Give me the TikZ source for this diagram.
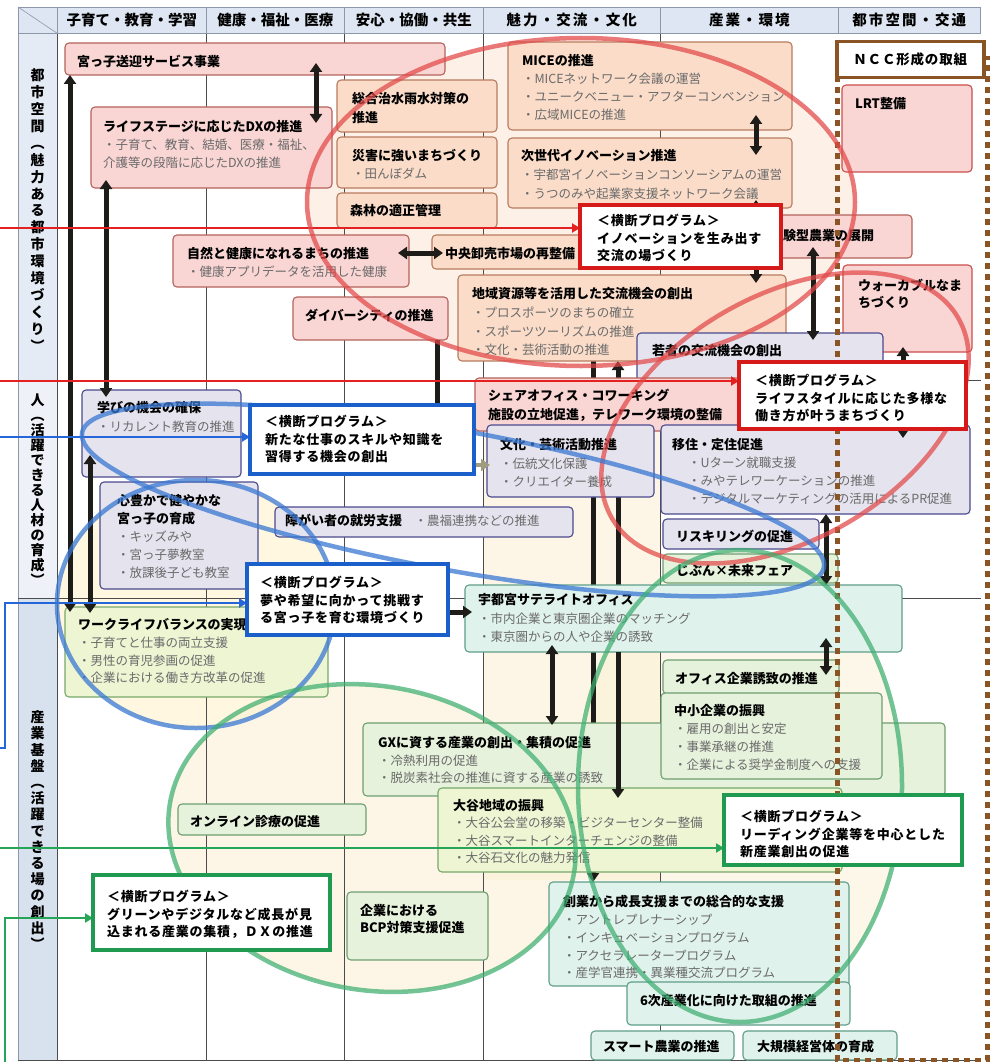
\documentclass[tikz,border=0pt]{standalone}
\usepackage{fontspec}
\setmainfont{Noto Sans CJK JP}
\newfontfamily\jpw{Noto Sans CJK JP}[LetterSpace=6]
\newfontfamily\jph{Noto Sans CJK JP}[LetterSpace=14]
\usetikzlibrary{arrows.meta}
\pgfdeclarelayer{back}\pgfdeclarelayer{mid}\pgfdeclarelayer{over}\pgfdeclarelayer{top}
\pgfsetlayers{back,mid,main,over,top}
\definecolor{pkF}{HTML}{F9D5D4}\definecolor{pkD}{HTML}{B5625C}\definecolor{pkR}{HTML}{CC4E4A}
\definecolor{pcF}{HTML}{FADCC9}\definecolor{pcD}{HTML}{B87C60}
\definecolor{lvF}{HTML}{E5E3EE}\definecolor{lvD}{HTML}{4A4A8E}
\definecolor{ygF}{HTML}{EDF5D3}\definecolor{ygD}{HTML}{78A86C}
\definecolor{lgF}{HTML}{E6F2DC}\definecolor{lgD}{HTML}{6E9F70}
\definecolor{cyF}{HTML}{E0F2EC}\definecolor{cyD}{HTML}{5F9E8A}
\definecolor{crRed}{HTML}{D61A1A}\definecolor{crBlue}{HTML}{1B5FCB}\definecolor{crGreen}{HTML}{1F9A50}
\definecolor{lnRed}{HTML}{E52020}\definecolor{lnBlue}{HTML}{2566D8}\definecolor{lnGreen}{HTML}{25A557}
\definecolor{elRed}{HTML}{E24848}\definecolor{elBlue}{HTML}{3A78D2}\definecolor{elGreen}{HTML}{3DAE70}
\definecolor{elRF}{HTML}{FDE6D8}\definecolor{creamF}{HTML}{FCF1D6}\definecolor{yelF}{HTML}{FFF5D2}
\definecolor{arrC}{HTML}{1E1C18}\definecolor{buC}{HTML}{6A6A6A}
\definecolor{hdF}{HTML}{DDE6F2}\definecolor{hdD}{HTML}{8C98AA}
\definecolor{lb1}{HTML}{E4EBF5}\definecolor{lb2}{HTML}{EEF2F8}\definecolor{lb3}{HTML}{D8E1EE}
\definecolor{nccC}{HTML}{8B5424}\definecolor{grayA}{HTML}{A09C80}
\newcommand\bt[1]{{\bfseries\fontsize{13}{18}\selectfont #1}}
\newcommand\bu[1]{\textcolor{buC}{#1}}
\newcommand\BX[6]{\node[#2, anchor=north west, minimum width={(#5)-(#3)}, minimum height={(#6)-(#4)}] (#1) at (#3,#4) {};}
\tikzset{
  tipA/.tip={Triangle[width=12pt,length=9pt]},
  tipB/.tip={Triangle[width=9pt,length=8pt]},
  bx/.style={rounded corners=4pt, line width=1.1pt, inner sep=0pt, outer sep=0pt},
  pk/.style={bx, fill=pkF, draw=pkD},
  pkr/.style={bx, fill=pkF, draw=pkR},
  pc/.style={bx, fill=pcF, draw=pcD},
  lv/.style={bx, fill=lvF, draw=lvD},
  yg/.style={bx, fill=ygF, draw=ygD},
  lg/.style={bx, fill=lgF, draw=lgD},
  cb/.style={bx, fill=cyF, draw=cyD},
  crs/.style={fill=white, line width=4pt, inner sep=0pt, outer sep=0pt},
  crR/.style={crs, draw=crRed},
  crB/.style={crs, draw=crBlue},
  crG/.style={crs, draw=crGreen},
  txt/.style={inner sep=0pt, outer sep=0pt, anchor=north west, align=left, font=\fontsize{12.5}{18}\selectfont, execute at begin node={\rule{0pt}{10pt}}},
  ctx/.style={txt, font=\jpw\bfseries\fontsize{13}{17.5}\selectfont},
  hdr/.style={anchor=north west, fill=hdF, draw=hdD, line width=0.6pt, inner sep=0pt, minimum height=26, font=\bfseries\fontsize{14.5}{16}\selectfont},
  lab/.style={anchor=north west, draw=hdD, line width=0.6pt, inner sep=0pt, minimum width=39},
  vlab/.style={align=center, inner sep=0pt},
  gridln/.style={draw=black!70, line width=0.7pt},
  dbl/.style={line width=5pt, draw=arrC, tipA-tipA},
  sgl/.style={line width=5pt, draw=arrC, -tipA},
  pln/.style={line width=5pt, draw=arrC},
  grayarr/.style={line width=4pt, draw=grayA, -tipA},
  redln/.style={line width=2pt, draw=lnRed, -tipB},
  blueln/.style={line width=2.4pt, draw=lnBlue, -tipB},
  greenln/.style={line width=2.4pt, draw=lnGreen, -tipB},
  nccdot/.style={draw=nccC, line width=5pt, dash pattern=on 6pt off 5pt},
  elR/.style={draw=elRed, line width=4.5pt, draw opacity=0.72},
  elB/.style={draw=elBlue, line width=4.5pt, draw opacity=0.75},
  elG/.style={draw=elGreen, line width=4.5pt, draw opacity=0.72},
}
\begin{document}
\begin{tikzpicture}[x=1pt,y=-1pt]
\useasboundingbox (0,0) rectangle (993,1062);
\coordinate (bot) at (0,1060);
\coordinate (X70) at (70,0);\coordinate (X90) at (90,0);\coordinate (X106) at (106,0);
\coordinate (X316) at (316,0);\coordinate (X437) at (437,0);\coordinate (X552) at (552,0);
\coordinate (X593) at (593,0);\coordinate (X618) at (618,0);\coordinate (X756) at (756,0);
\coordinate (X813) at (813,0);\coordinate (X826) at (826,0);\coordinate (X903) at (903,0);
\coordinate (Y253) at (0,253);\coordinate (Y465) at (0,465);\coordinate (Y612) at (0,612);

% ---------------- background layer
\begin{pgfonlayer}{back}
\fill[white] (0,0) rectangle (993,1062);
\fill[creamF, fill opacity=0.6] (483,380) rectangle (660,880);
\fill[elRF, fill opacity=0.6] (581,202) ellipse [x radius=274, y radius=164];
\fill[yelF, fill opacity=0.7] (196,604) ellipse [x radius=139, y radius=124];
\fill[creamF, fill opacity=0.6, rotate around={-10:(372,838)}] (372,838) ellipse [x radius=205, y radius=152];
\fill[creamF, fill opacity=0.5] (740,786) ellipse [x radius=162, y radius=236];
\node[hdr, minimum width=39] (h0) at (18,7) {};
\draw[hdD, line width=0.6pt] (h0.north west) -- (h0.south east);
\node[hdr, minimum width=149] (h1) at (57,7) {子育て・教育・学習};
\node[hdr, minimum width=138] (h2) at (206,7) {健康・福祉・医療};
\node[hdr, minimum width=139] (h3) at (344,7) {安心・協働・共生};
\node[hdr, minimum width=177] (h4) at (483,7) {\jph 魅力・交流・文化};
\node[hdr, minimum width=178] (h5) at (660,7) {\jph 産業・環境};
\node[hdr, minimum width=142] (h6) at (838,7) {\jph 都市空間・交通};
\node[lab, fill=lb1, minimum height=347] (r1) at (18,33) {};
\node[lab, fill=lb2, minimum height=218] (r2) at (18,380) {};
\node[lab, fill=lb3, minimum height=462] (r3) at (18,598) {};
\node[vlab, font=\bfseries\fontsize{14}{16.9}\selectfont] (r1t) at (37.5,210) {都\\市\\空\\間\\︵\\魅\\力\\あ\\る\\都\\市\\環\\境\\づ\\く\\り\\︶};
\node[vlab, font=\bfseries\fontsize{14}{15}\selectfont] (r2t) at (37.5,490) {人\\︵\\活\\躍\\で\\き\\る\\人\\材\\の\\育\\成\\︶};
\node[vlab, font=\bfseries\fontsize{14}{16.2}\selectfont] (r3t) at (37.5,830) {産\\業\\基\\盤\\︵\\活\\躍\\で\\き\\る\\場\\の\\創\\出\\︶};
\foreach \n in {h0,h1,h2,h3,h4} \draw[gridln] (\n.south east) -- (\n.south east |- bot);
\draw[gridln] (r2.north east) -- (r2.north east -| h6.south east);
\draw[gridln] (r3.north west) -- (r3.north west -| h6.south east);
\draw[gridln] (r3.south west) -- (r3.south west -| h6.south east);
\end{pgfonlayer}

% ---------------- cross-program boxes (top layer)
\begin{pgfonlayer}{top}
\BX{crossR1}{crR}{580}{205}{781}{268}
\node[ctx] (crossR1T) at (597,214.5) {＜横断プログラム＞\\イノベーションを生み出す\\交流の場づくり};
\BX{crossR2}{crR}{739}{362}{966}{429}
\node[ctx] (crossR2T) at (755,374.5) {＜横断プログラム＞\\ライフスタイルに応じた多様な\\働き方が叶うまちづくり};
\BX{crossB1}{crB}{250}{405}{474}{474}
\node[ctx] (crossB1T) at (265,415.5) {＜横断プログラム＞\\新たな仕事のスキルや知識を\\習得する機会の創出};
\BX{crossB2}{crB}{247}{564}{448}{635}
\node[ctx] (crossB2T) at (260,576.5) {＜横断プログラム＞\\夢や希望に向かって挑戦す\\る宮っ子を育む環境づくり};
\BX{crossG1}{crG}{724}{795}{962}{865}
\node[ctx] (crossG1T) at (740,810.5) {＜横断プログラム＞\\リーディング企業等を中心とした\\新産業創出の促進};
\BX{crossG2}{crG}{93}{875}{330}{950}
\node[ctx] (crossG2T) at (107,890.5) {＜横断プログラム＞\\グリーンやデジタルなど成長が見\\込まれる産業の集積，ＤＸの推進};
\end{pgfonlayer}

% ---------------- ordinary boxes (main layer)
\BX{miyakko}{pk}{65}{43}{445}{75}
\node[txt] (miyakkoT) at (77,55.5) {\bt{宮っ子送迎サービス事業}};
\BX{life}{pk}{91}{107}{332}{188}
\node[txt] (lifeT) at (103,120.5) {\bt{ライフステージに応じたDXの推進}\\\bu{・子育て、教育、結婚、医療・福祉、}\\\bu{介護等の段階に応じたDXの推進}};
\BX{chisui}{pc}{337}{80}{497}{132}
\node[txt, font=\fontsize{12.5}{19}\selectfont] (chisuiT) at (352,92.5) {\bt{総合治水雨水対策の}\\\bt{推進}};
\BX{saigai}{pc}{337}{137}{497}{188}
\node[txt] (saigaiT) at (352,149.5) {\bt{災害に強いまちづくり}\\\bu{・田んぼダム}};
\BX{shinrin}{pc}{337}{193}{497}{228}
\node[txt] (shinrinT) at (350,204.5) {\bt{森林の適正管理}};
\BX{mice}{pc}{508}{42}{792}{130}
\node[txt] (miceT) at (522,54.5) {\bt{MICEの推進}\\\bu{・MICEネットワーク会議の運営}\\\bu{・ユニークベニュー・アフターコンベンション}\\\bu{・広域MICEの推進}};
\BX{jisedai}{pc}{508}{138}{792}{208}
\node[txt, font=\fontsize{12.5}{19}\selectfont] (jisedaiT) at (521,149.5) {\bt{次世代イノベーション推進}\\\bu{・宇都宮イノベーションコンソーシアムの運営}\\\bu{・うつのみや起業家支援ネットワーク会議}};
\node[anchor=north west, fill=white, draw=nccC, line width=3.5pt, minimum width=147, minimum height=36, inner sep=0pt, font=\jpw\bfseries\fontsize{13.5}{16}\selectfont] (ncc) at (835,40) {ＮＣＣ形成の取組};
\BX{lrt}{pkr}{842}{85}{972}{172}
\node[txt] (lrtT) at (855,97.5) {\bt{LRT整備}};
\BX{shizen}{pk}{173}{235}{409}{287}
\node[txt] (shizenT) at (187,247.5) {\bt{自然と健康になれるまちの推進}\\\bu{・健康アプリデータを活用した健康}};
\BX{oroshi}{pc}{432}{235}{600}{269}
\node[txt] (oroshiT) at (445,247.5) {\bt{中央卸売市場の再整備}};
\BX{taiken}{pk}{762}{215}{912}{258}
\node[txt] (taikenT) at (770,229.5) {\bt{体験型農業の展開}};
\BX{diversity}{pk}{293}{297}{448}{340}
\node[txt] (diversityT) at (305,309.5) {\bt{ダイバーシティの推進}};
\BX{chiiki}{pc}{458}{275}{786}{361}
\node[txt, font=\fontsize{12.5}{18.7}\selectfont] (chiikiT) at (472,287.5) {\bt{地域資源等を活用した交流機会の創出}\\\bu{・プロスポーツのまちの確立}\\\bu{・スポーツツーリズムの推進}\\\bu{・文化・芸術活動の推進}};
\BX{walkable}{pkr}{843}{265}{972}{352}
\node[txt, font=\fontsize{12.5}{17}\selectfont] (walkableT) at (858,279.5) {\bt{ウォーカブルなま}\\\bt{ちづくり}};
\BX{wakamono}{lv}{637}{333}{883}{395}
\node[txt] (wakamonoT) at (652,344.5) {\bt{若者の交流機会の創出}};
\BX{share}{pk}{475}{378}{760}{431}
\node[txt, font=\fontsize{12.5}{19}\selectfont] (shareT) at (488,389.5) {\bt{シェアオフィス・コワーキング}\\\bt{施設の立地促進，テレワーク環境の整備}};
\BX{manabi}{lv}{82}{390}{241}{477}
\node[txt, font=\fontsize{12.5}{19}\selectfont] (manabiT) at (97,401.5) {\bt{学びの機会の確保}\\\bu{・リカレント教育の推進}};
\BX{bunka}{lv}{487}{425}{654}{497}
\node[txt, font=\fontsize{12.5}{18.5}\selectfont] (bunkaT) at (500,438.5) {\bt{文化・芸術活動推進}\\\bu{・伝統文化保護}\\\bu{・クリエイター養成}};
\BX{iju}{lv}{661}{425}{970}{514}
\node[txt] (ijuT) at (672,438.5) {\bt{移住・定住促進}\\\makebox[16pt]{}\bu{・Uターン就職支援}\\\makebox[16pt]{}\bu{・みやテレワーケーションの推進}\\\makebox[16pt]{}\bu{・デジタルマーケティングの活用によるPR促進}};
\BX{kokoro}{lv}{100}{482}{258}{589}
\node[txt] (kokoroT) at (117,494.5) {\bt{心豊かで健やかな}\\\bt{宮っ子の育成}\\\bu{・キッズみや}\\\bu{・宮っ子夢教室}\\\bu{・放課後子ども教室}};
\BX{shogai}{lv}{275}{507}{573}{537}
\node[txt] (shogaiT) at (285,514.5) {\bt{障がい者の就労支援}　\bu{・農福連携などの推進}};
\BX{reskill}{lv}{663}{519}{819}{549}
\node[txt] (reskillT) at (676,530.5) {\bt{リスキリングの促進}};
\BX{jibun}{lg}{663}{554}{838}{583}
\node[txt] (jibunT) at (676,564.5) {\bt{じぶん×未来フェア}};
\BX{wlb}{yg}{65}{607}{328}{697}
\node[txt, font=\fontsize{12.5}{17.7}\selectfont] (wlbT) at (78,618.5) {\bt{ワークライフバランスの実現}\\\bu{・子育てと仕事の両立支援}\\\bu{・男性の育児参画の促進}\\\bu{・企業における働き方改革の促進}};
\BX{sat}{cb}{465}{585}{902}{652}
\node[txt, font=\fontsize{12.5}{18.5}\selectfont] (satT) at (478,593.5) {\bt{宇都宮サテライトオフィス}\\\bu{・市内企業と東京圏企業のマッチング}\\\bu{・東京圏からの人や企業の誘致}};
\BX{office}{lg}{663}{660}{839}{694}
\node[txt] (officeT) at (675,672.5) {\bt{オフィス企業誘致の推進}};
\BX{gx}{lg}{363}{723}{945}{796}
\node[txt, font=\fontsize{12.5}{17.5}\selectfont] (gxT) at (378,736.5) {\bt{GXに資する産業の創出・集積の促進}\\\bu{・冷熱利用の促進}\\\bu{・脱炭素社会の推進に資する産業の誘致}};
\BX{chusho}{lg}{661}{693}{882}{779}
\node[txt] (chushoT) at (674,704.5) {\bt{中小企業の振興}\\\bu{・雇用の創出と安定}\\\bu{・事業承継の推進}\\\bu{・企業による奨学金制度への支援}};
\BX{oya}{yg}{438}{788}{842}{872}
\node[txt, font=\fontsize{12.5}{17.3}\selectfont] (oyaT) at (453,799.5) {\bt{大谷地域の振興}\\\bu{・大谷公会堂の移築・ビジターセンター整備}\\\bu{・大谷スマートインターチェンジの整備}\\\bu{・大谷石文化の魅力発信}};
\BX{online}{lg}{178}{804}{366}{835}
\node[txt] (onlineT) at (190,815.5) {\bt{オンライン診療の促進}};
\BX{bcp}{lg}{347}{892}{488}{960}
\node[txt, font=\fontsize{12.5}{17}\selectfont] (bcpT) at (360,904.5) {\bt{企業における}\\\bt{BCP対策支援促進}};
\BX{sogyo}{cb}{549}{882}{849}{986}
\node[txt, font=\fontsize{12.5}{17.75}\selectfont] (sogyoT) at (563,895.5) {\bt{創業から成長支援までの総合的な支援}\\\bu{・アントレプレナーシップ}\\\bu{・インキュベーションプログラム}\\\bu{・アクセラレータープログラム}\\\bu{・産学官連携・異業種交流プログラム}};
\BX{rokuji}{cb}{627}{982}{850}{1025}
\node[txt] (rokujiT) at (640,994.5) {\bt{6次産業化に向けた取組の推進}};
\BX{smart}{cb}{591}{1031}{734}{1060}
\node[txt] (smartT) at (603,1040) {\bt{スマート農業の推進}};
\BX{daikibo}{cb}{743}{1031}{897}{1060}
\node[txt] (daikiboT) at (757,1040) {\bt{大規模経営体の育成}};

% ---------------- arrows hidden behind boxes
\begin{pgfonlayer}{mid}
\draw[sgl] (chiiki.south -| X593) -- (sogyo.north -| X593);
\draw[pln, tipA-] (chiiki.south -| X618) -- (sat.center -| X618);
\end{pgfonlayer}

% ---------------- arrows over boxes
\draw[dbl, shorten >=-5pt] (miyakko.south -| X70) -- (wlb.north -| X70);
\draw[dbl, shorten <=-8pt, shorten >=-7pt] (life.south -| X106) -- (manabi.north -| X106);
\draw[dbl, shorten <=-22pt, shorten >=-6pt] (manabi.south -| X90) -- (wlb.north -| X90);
\draw[dbl, shorten <=-12pt, shorten >=-16pt] (miyakko.south -| X316) -- (life.north -| X316);
\draw[dbl, shorten <=-15pt, shorten >=-17pt] (mice.south -| X756) -- (jisedai.north -| X756);
\draw[dbl, shorten <=-8pt, shorten >=-8pt] (jisedai.south -| X756) -- (chiiki.north -| X756);
\draw[dbl, shorten <=-11pt, shorten >=-11pt] (shizen.east |- Y253) -- (oroshi.west |- Y253);
\draw[dbl, shorten <=-11pt, shorten >=-7pt] (taiken.south -| X813) -- (wakamono.north -| X813);
\draw[dbl, shorten <=-5pt, shorten >=-13pt] (walkable.south -| X903) -- (iju.north -| X903);
\draw[pln] (diversity.south -| X437) -- (crossB1.center -| X437);
\draw[dbl, shorten <=-7pt, shorten >=-2pt] (sat.south -| X552) -- (gx.north -| X552);
\draw[dbl] (iju.south -| X826) -- (sat.north -| X826);
\draw[dbl, shorten <=-14pt, shorten >=-15pt] (sat.south -| X826) -- (office.north -| X826);
\draw[sgl, shorten >=-10pt] (sat.south -| X618) -- (oya.north -| X618);
\draw[sgl, shorten >=-7pt] (crossB2.east |- Y612) -- (sat.west |- Y612);
\draw[grayarr, shorten >=-3pt] (crossB1.east |- Y465) -- (bunka.west |- Y465);

% ---------------- over layer: NCC frame, program lines, ellipses
\begin{pgfonlayer}{over}
\coordinate (D1) at (837,76);\coordinate (D2) at (837,1060);
\coordinate (D3) at (987,1060);\coordinate (D4) at (987,56);
\draw[nccdot] (D1) -- (D2) -- (D3) -- (D4);
\coordinate (R1s) at (0,228);\coordinate (R2s) at (0,381);
\coordinate (B1s) at (0,437);\coordinate (B2s) at (0,748);\coordinate (B2y) at (0,603);
\coordinate (G1s) at (0,848);\coordinate (G2s) at (5,1062);\coordinate (G2y) at (0,918);
\draw[redln] (R1s) -- (R1s -| crossR1.west);
\draw[redln] (R2s) -- (R2s -| crossR2.west);
\draw[blueln] (B1s) -- (B1s -| crossB1.west);
\draw[blueln] (B2s) -- ++(5,0) |- (crossB2.west |- B2y);
\draw[greenln] (G1s) -- (G1s -| crossG1.west);
\draw[greenln] (G2s) |- (crossG2.west |- G2y);
\draw[elR] (581,202) ellipse [x radius=274, y radius=164];
\draw[elR, rotate around={30:(785,418)}] (785,418) ellipse [x radius=200, y radius=122];
\draw[elB, rotate around={-10.3:(453,500)}] (453,500) ellipse [x radius=377, y radius=70];
\draw[elB] (196,604) ellipse [x radius=139, y radius=124];
\draw[elG, rotate around={-10:(372,838)}] (372,838) ellipse [x radius=205, y radius=152];
\draw[elG] (740,786) ellipse [x radius=162, y radius=236];
\end{pgfonlayer}
\end{tikzpicture}
\end{document}
